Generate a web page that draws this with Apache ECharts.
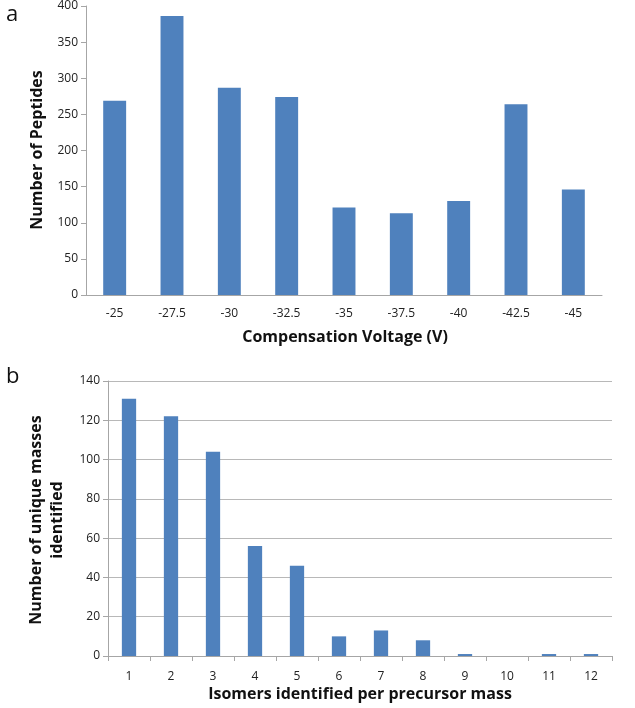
<!DOCTYPE html>
<html>
<head>
<meta charset="utf-8">
<script src="https://cdn.jsdelivr.net/npm/echarts@6/dist/echarts.min.js"></script>
<style>
html,body{margin:0;padding:0;background:#fff;}
#chart{width:635px;height:708px;}
</style>
</head>
<body>
<div id="chart"></div>
<script>
// Panel a
const voltageCategories = ['-25','-27.5','-30','-32.5','-35','-37.5','-40','-42.5','-45'];
const peptideCounts = [269, 386, 287, 274, 121, 113, 130, 264, 146];
const peptideTicks = [0, 50, 100, 150, 200, 250, 300, 350, 400];
// Panel b
const isomerCategories = ['1','2','3','4','5','6','7','8','9','10','11','12'];
const uniqueMassCounts = [131, 122, 104, 56, 46, 10, 13, 8, 1, 0, 1, 1];
const massTicks = [0, 20, 40, 60, 80, 100, 120, 140];

const FONT = '"Open Sans", "Liberation Sans", sans-serif';
const BAR = '#4F81BD';
const AXIS = '#A6A6A6';

const chart = echarts.init(document.getElementById('chart'), null, {renderer: 'canvas'});
chart.setOption({
  animation: false,
  backgroundColor: '#fff',
  grid: [
    {left: 86, top: 5, width: 516, height: 290},
    {left: 108, top: 381, width: 504, height: 275}
  ],
  xAxis: [
    {
      gridIndex: 0, type: 'category', data: voltageCategories,
      axisLine: {lineStyle: {color: AXIS, width: 1}},
      axisTick: {show: false},
      axisLabel: {color: '#222', fontFamily: FONT, fontSize: 12, margin: 13}
    },
    {
      gridIndex: 1, type: 'category', data: isomerCategories,
      axisLine: {lineStyle: {color: AXIS, width: 1}},
      axisTick: {show: true, length: 5, lineStyle: {color: AXIS}},
      axisLabel: {color: '#222', fontFamily: FONT, fontSize: 12, margin: 15}
    }
  ],
  yAxis: [
    {
      gridIndex: 0, type: 'value', min: peptideTicks[0], max: peptideTicks[peptideTicks.length-1], interval: 50,
      axisLine: {show: true, lineStyle: {color: AXIS}},
      axisTick: {show: true, length: 5, lineStyle: {color: AXIS}},
      splitLine: {show: false},
      axisLabel: {color: '#222', fontFamily: FONT, fontSize: 12, margin: 8}
    },
    {
      gridIndex: 1, type: 'value', min: massTicks[0], max: massTicks[massTicks.length-1], interval: 20,
      axisLine: {show: true, lineStyle: {color: AXIS}},
      axisTick: {show: true, length: 5, lineStyle: {color: AXIS}},
      splitLine: {show: true, lineStyle: {color: '#B8B8B8'}},
      axisLabel: {color: '#222', fontFamily: FONT, fontSize: 12, margin: 8}
    }
  ],
  series: [
    {
      type: 'bar', xAxisIndex: 0, yAxisIndex: 0, data: peptideCounts,
      barWidth: '40%',
      itemStyle: {color: BAR}
    },
    {
      type: 'bar', xAxisIndex: 1, yAxisIndex: 1, data: uniqueMassCounts,
      barWidth: '34%',
      itemStyle: {color: BAR}
    }
  ],
  graphic: [
    {type: 'text', left: 6, top: 4, style: {text: 'a', font: '22px ' + FONT, fill: '#111'}},
    {type: 'text', left: 6, top: 366, style: {text: 'b', font: '22px ' + FONT, fill: '#111'}},
    {type: 'text', x: 37, y: 150, rotation: Math.PI/2,
      style: {text: 'Number of Peptides', font: 'bold 16px ' + FONT, fill: '#111', align: 'center', verticalAlign: 'middle'}},
    {type: 'text', x: 345, y: 337,
      style: {text: 'Compensation Voltage (V)', font: 'bold 16px ' + FONT, fill: '#111', align: 'center', verticalAlign: 'middle'}},
    {type: 'text', x: 47, y: 520, rotation: Math.PI/2,
      style: {text: 'Number of unique masses\nidentified', font: 'bold 16px ' + FONT, lineHeight: 21, fill: '#111', align: 'center', verticalAlign: 'middle'}},
    {type: 'text', x: 360, y: 694,
      style: {text: 'Isomers identified per precursor mass', font: 'bold 16px ' + FONT, fill: '#111', align: 'center', verticalAlign: 'middle'}}
  ]
});
</script>
</body>
</html>
